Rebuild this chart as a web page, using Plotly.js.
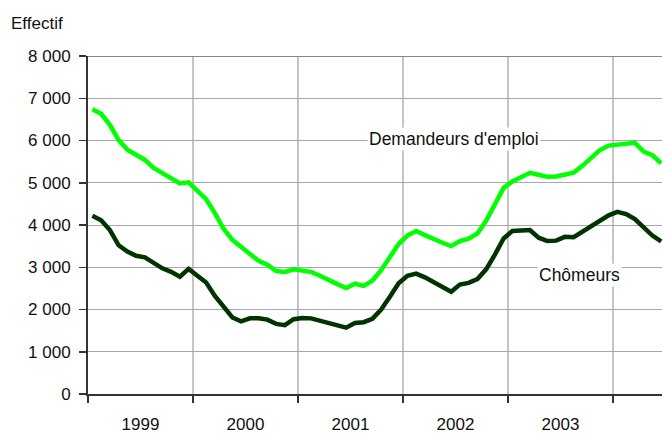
<!DOCTYPE html>
<html>
<head>
<meta charset="utf-8">
<script src="https://cdn.plot.ly/plotly-3.0.1.min.js"></script>
<style>html,body{margin:0;padding:0;background:#fff;}#chart{width:662px;height:434px;}</style>
</head>
<body>
<div id="chart"></div>
<script>
// Monthly series, January 1999 to June 2004
const startYear = 1999;
const demandeurs = [6740, 6630, 6370, 6010, 5780, 5650, 5540, 5350, 5230, 5090, 4985, 5010,
  4800, 4610, 4280, 3910, 3650, 3480, 3310, 3150, 3060, 2910, 2890, 2950,
  2920, 2890, 2800, 2690, 2600, 2510, 2610, 2560, 2680, 2930, 3250, 3550,
  3750, 3860, 3760, 3660, 3580, 3500, 3620, 3675, 3800, 4100, 4520, 4880,
  5030, 5140, 5235, 5190, 5140, 5150, 5190, 5240, 5400, 5600, 5775, 5880,
  5910, 5930, 5945, 5735, 5650, 5460];
const chomeurs = [4220, 4110, 3880, 3520, 3370, 3270, 3235, 3110, 2975, 2890, 2775, 2960,
  2810, 2640, 2320, 2050, 1810, 1720, 1790, 1790, 1760, 1660, 1630, 1770,
  1800, 1790, 1740, 1680, 1620, 1570, 1680, 1700, 1780, 2000, 2300, 2620,
  2800, 2850, 2760, 2640, 2520, 2420, 2590, 2630, 2720, 2950, 3300, 3680,
  3860, 3880, 3880, 3700, 3620, 3630, 3720, 3710, 3840, 3970, 4100, 4230,
  4310, 4260, 4140, 3950, 3750, 3610];
const yearLabels = ['1999', '2000', '2001', '2002', '2003'];
const yearBounds = [1999, 2000, 2001, 2002, 2003, 2004];
const yTicks = [0, 1000, 2000, 3000, 4000, 5000, 6000, 7000, 8000];

const months = demandeurs.map((_, i) => startYear + (i + 0.5) / 12);
const labelPos = yearLabels.map(y => Number(y) + 0.5);

const FONT = 'Liberation Sans, Arial, sans-serif';

const traces = [
  {x: months, y: demandeurs, type: 'scatter', mode: 'lines', name: "Demandeurs d'emploi",
   line: {color: '#00ff00', width: 4.5, shape: 'linear'}, hoverinfo: 'skip'},
  {x: months, y: chomeurs, type: 'scatter', mode: 'lines', name: 'Chômeurs',
   line: {color: '#003300', width: 4.5, shape: 'linear'}, hoverinfo: 'skip'}
];

const layout = {
  width: 662, height: 434,
  margin: {l: 88, r: 0, t: 56, b: 40},
  paper_bgcolor: '#fff', plot_bgcolor: '#fff',
  showlegend: false,
  separators: ', ',
  font: {family: FONT, size: 17, color: '#111'},
  xaxis: {
    type: 'linear', range: [1999, 1999 + 574 / 105], fixedrange: true,
    tickmode: 'array', tickvals: labelPos, ticktext: yearLabels,
    ticks: '', showgrid: false, zeroline: false,
    showline: true, linecolor: '#333', linewidth: 2,
    ticklabelstandoff: 14,
    tickfont: {family: FONT, size: 17, color: '#111'},
    minor: {tickmode: 'array', tickvals: yearBounds, ticks: 'outside', ticklen: 7, tickwidth: 1.5,
            tickcolor: '#333', showgrid: true, gridcolor: '#c6c6c6', gridwidth: 1.5}
  },
  yaxis: {
    range: [0, 8000], fixedrange: true,
    tickmode: 'array', tickvals: yTicks, tickformat: ',d',
    ticks: 'outside', ticklen: 7, tickwidth: 1.5, tickcolor: '#333',
    showgrid: true, gridcolor: '#a8a8a8', gridwidth: 1,
    zeroline: false, showline: true, linecolor: '#333', linewidth: 2,
    ticklabelstandoff: 5,
    tickfont: {family: FONT, size: 17, color: '#111'}
  },
  shapes: [
    {type: 'line', xref: 'paper', yref: 'y', x0: 0, x1: 1, y0: 8000, y1: 8000,
     line: {color: '#888', width: 2}, layer: 'above'}
  ],
  annotations: [
    {text: 'Effectif', xref: 'paper', yref: 'paper', x: -79 / 574, y: 1 + 32 / 338,
     xanchor: 'left', yanchor: 'middle', showarrow: false,
     font: {family: FONT, size: 17, color: '#111'}},
    {text: "Demandeurs d'emploi", xref: 'x', yref: 'y', x: 2002.49, y: 6040,
     xanchor: 'center', yanchor: 'middle', showarrow: false, bgcolor: '#fff',
     font: {family: FONT, size: 17.5, color: '#111'}},
    {text: 'Chômeurs', xref: 'x', yref: 'y', x: 2003.68, y: 2810,
     xanchor: 'center', yanchor: 'middle', showarrow: false, bgcolor: '#fff',
     font: {family: FONT, size: 17.5, color: '#111'}}
  ]
};

Plotly.newPlot('chart', traces, layout, {displayModeBar: false, staticPlot: true});
</script>
</body>
</html>
